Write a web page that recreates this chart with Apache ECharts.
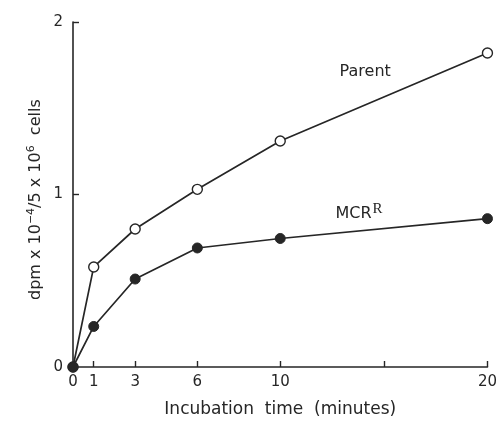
<!DOCTYPE html>
<html><head><meta charset="utf-8">
<script src="https://cdn.jsdelivr.net/npm/echarts@6/dist/echarts.min.js"></script>
<style>html,body{margin:0;padding:0;background:#fff}#c{width:500px;height:424px}</style>
</head><body><div id="c"></div>
<script>
const times = [0, 1, 3, 6, 10, 20];
const parentVals = [0, 0.58, 0.80, 1.03, 1.31, 1.82];
const mcrVals = [0, 0.235, 0.51, 0.69, 0.745, 0.86];
const xLabelTicks = [0, 1, 3, 6, 10, 20];
const xTickMarks = [1, 3, 6, 10, 15, 20];
const yTicks = [0, 1, 2];
const seriesLabels = [
  {name: 'Parent', at: [14.1, 1.71]},
  {name: 'MCR', at: [13.8, 0.885]}
];

const ink = '#262626';
const font = 'DejaVu Sans';
const chart = echarts.init(document.getElementById('c'));
chart.setOption({
  animation: false,
  backgroundColor: '#fff',
  grid: {left: 73, right: 8, top: 22, bottom: 57},
  xAxis: {
    type: 'value', min: 0, max: 20, interval: 1,
    axisLine: {lineStyle: {color: ink, width: 1.6}},
    axisTick: {show: true, inside: true, length: 6, customValues: xTickMarks, lineStyle: {color: ink, width: 1.4}},
    axisLabel: {customValues: xLabelTicks, color: ink, fontFamily: font, fontSize: 15, margin: 8},
    splitLine: {show: false},
    name: 'Incubation  time  (minutes)', nameLocation: 'middle', nameGap: 34,
    nameTextStyle: {color: ink, fontFamily: font, fontSize: 17}
  },
  yAxis: {
    type: 'value', min: 0, max: 2, interval: 1,
    axisLine: {show: true, lineStyle: {color: ink, width: 1.6}},
    axisTick: {show: true, inside: true, length: 6, customValues: [1, 2], lineStyle: {color: ink, width: 1.4}},
    axisLabel: {customValues: yTicks, color: ink, fontFamily: font, fontSize: 15, margin: 10},
    splitLine: {show: false}
  },
  series: [
    {type: 'line', name: 'Parent', data: times.map((t,i)=>[t, parentVals[i]]),
     symbol: 'circle', symbolSize: 10, showAllSymbol: true,
     lineStyle: {color: ink, width: 1.7},
     itemStyle: {color: '#fff', borderColor: ink, borderWidth: 1.4},
     z: 2},
    {type: 'line', name: 'MCR', data: times.map((t,i)=>[t, mcrVals[i]]),
     symbol: 'circle', symbolSize: 10, showAllSymbol: true,
     lineStyle: {color: ink, width: 1.7},
     itemStyle: {color: ink, borderColor: ink},
     z: 3}
  ]
});
const p1 = chart.convertToPixel({gridIndex: 0}, seriesLabels[0].at);
const p2 = chart.convertToPixel({gridIndex: 0}, seriesLabels[1].at);
chart.setOption({
  graphic: [
    {type: 'text', x: 26, y: 300, rotation: Math.PI/2,
     style: {
       text: '{b|dpm x 10}{s|−4}{b|/5 x 10}{s|6}{b|  cells}',
       rich: {
         b: {fontFamily: font, fontSize: 16, fill: ink},
         s: {fontFamily: font, fontSize: 11, fill: ink, padding: [0,0,9,0]}
       }
     }},
    {type: 'text', x: p1[0], y: p1[1],
     style: {text: 'Parent', fontFamily: font, fontSize: 16, fill: ink, align: 'center', verticalAlign: 'middle'}},
    {type: 'text', x: p2[0], y: p2[1],
     style: {text: '{a|MCR}{r|R}', align: 'center', verticalAlign: 'middle',
       rich: {a: {fontFamily: font, fontSize: 16, fill: ink}, r: {fontFamily: 'Liberation Serif', fontSize: 15, fill: ink, padding: [0,0,10,1]}}}}
  ]
});
</script></body></html>
